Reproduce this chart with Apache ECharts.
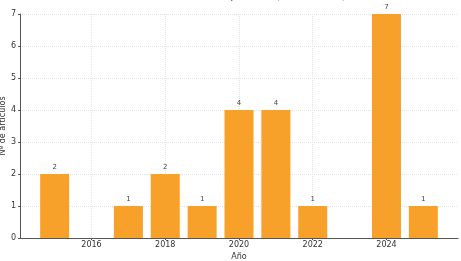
<!DOCTYPE html>
<html><head><meta charset="utf-8">
<script src="https://cdn.jsdelivr.net/npm/echarts@6/dist/echarts.min.js"></script>
<style>html,body{margin:0;padding:0;background:#fff}#c{width:461px;height:261px}</style>
</head><body><div id="c"></div>
<script>
const years = [2015, 2016, 2017, 2018, 2019, 2020, 2021, 2022, 2023, 2024, 2025];
const counts = [2, 0, 1, 2, 1, 4, 4, 1, 0, 7, 1];
const xTicks = [2016, 2018, 2020, 2022, 2024];
const yTicks = [0, 1, 2, 3, 4, 5, 6, 7];

const chart = echarts.init(document.getElementById('c'));
const data = years.map((y, i) => [y, counts[i]]).filter(d => d[1] > 0);
chart.setOption({
  animation: false,
  backgroundColor: '#fff',
  title: { text: 'Número de artículos por año (2015–2025)', left: 'center', top: -14, textStyle: { fontSize: 11, fontWeight: 'normal', color: '#555', fontFamily: 'DejaVu Sans' } },
  grid: { left: 20, right: 3, top: 14, bottom: 23, containLabel: false, outerBoundsMode: 'none' },
  xAxis: {
    type: 'value', min: 2014.06, max: 2025.94,
    name: 'Año', nameLocation: 'middle', nameGap: 15, nameMoveOverlap: false,
    nameTextStyle: { fontSize: 8, color: '#333', fontFamily: 'DejaVu Sans' },
    axisLine: { lineStyle: { color: '#555', width: 1 } },
    axisTick: { show: true, length: 2, customValues: xTicks, lineStyle: { color: '#555' } },
    axisLabel: { customValues: xTicks, formatter: v => String(v), fontSize: 8, color: '#333', margin: 3, fontFamily: 'DejaVu Sans' },
    splitLine: { show: true, lineStyle: { color: '#e3e3e3', type: 'dotted' } }
  },
  yAxis: {
    type: 'value', min: 0, max: 7, interval: 1,
    name: 'Nº de artículos', nameLocation: 'middle', nameGap: 13, nameMoveOverlap: false,
    nameTextStyle: { fontSize: 8, color: '#333', fontFamily: 'DejaVu Sans' },
    axisLine: { show: true, lineStyle: { color: '#555', width: 1 } },
    axisTick: { show: true, length: 2, lineStyle: { color: '#555' } },
    axisLabel: { fontSize: 8, color: '#333', margin: 4, fontFamily: 'DejaVu Sans' },
    splitLine: { show: true, lineStyle: { color: '#e3e3e3', type: 'dotted' } }
  },
  series: [{
    type: 'bar', data: data, barWidth: 29,
    itemStyle: { color: '#F7A12B' },
    label: { show: true, position: 'top', distance: 3, fontSize: 7, color: '#444', fontFamily: 'DejaVu Sans' }
  }]
});
</script></body></html>
